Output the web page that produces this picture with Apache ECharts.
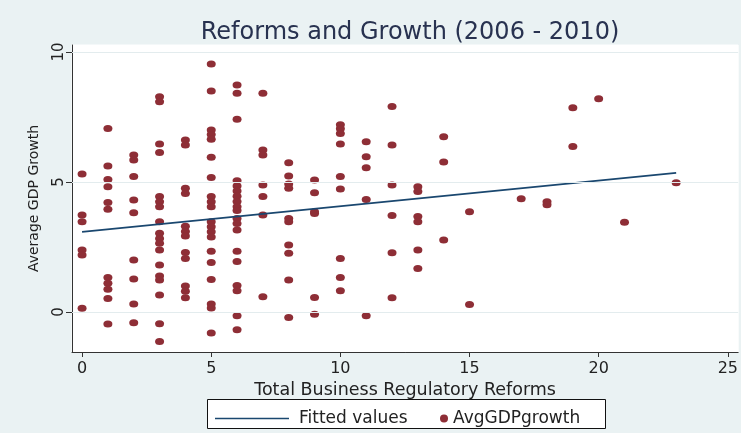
<!DOCTYPE html>
<html>
<head>
<meta charset="utf-8">
<script src="https://cdn.jsdelivr.net/npm/echarts@6/dist/echarts.min.js"></script>
<style>
html,body{margin:0;padding:0;background:#eaf2f3;}
#chart{width:741px;height:433px;}
</style>
</head>
<body>
<div id="chart"></div>
<script>
// Total business regulatory reforms (x) and average GDP growth (y), one entry per country
const reforms = [
  0,0,0,0,0,0,
  1,1,1,1,1,1,1,1,1,1,1,
  2,2,2,2,2,2,2,2,2,
  3,3,3,3,3,3,3,3,3,3,3,3,3,3,3,3,3,3,
  4,4,4,4,4,4,4,4,4,4,4,4,
  5,5,5,5,5,5,5,5,5,5,5,5,5,5,5,5,5,5,5,5,
  6,6,6,6,6,6,6,6,6,6,6,6,6,6,6,6,6,6,6,
  7,7,7,7,7,7,7,
  8,8,8,8,8,8,8,8,8,8,
  9,9,9,9,9,9,
  10,10,10,10,10,10,10,10,10,
  11,11,11,11,11,
  12,12,12,12,12,12,
  13,13,13,13,13,13,
  14,14,14,
  15,15,
  17,
  18,18,
  19,19,
  20,
  21,
  23
];
const avgGdpGrowth = [
  5.31,3.73,3.47,2.38,2.19,0.14,
  7.06,5.62,5.10,4.82,4.21,3.95,1.33,1.10,0.87,0.52,-0.46,
  6.04,5.85,5.21,4.31,3.82,2.00,1.27,0.31,-0.41,
  8.28,8.09,6.46,6.13,4.44,4.24,4.05,3.47,3.03,2.83,2.64,2.38,1.81,1.38,1.23,0.65,-0.45,-1.14,
  6.62,6.42,4.76,4.56,3.30,3.10,2.92,2.29,2.06,1.00,0.80,0.55,
  9.54,8.50,7.00,6.83,6.64,5.95,5.17,4.44,4.24,4.05,3.47,3.28,3.09,2.88,2.34,1.90,1.25,0.31,0.15,-0.81,
  8.73,8.41,7.41,5.05,4.85,4.65,4.45,4.25,4.05,3.90,3.60,3.40,3.15,2.34,1.94,1.02,0.82,-0.15,-0.68,
  8.41,6.23,6.04,4.88,4.44,3.73,0.59,
  5.74,5.23,4.92,4.76,3.60,3.47,2.58,2.26,1.23,-0.21,
  5.08,4.59,3.86,3.79,0.56,-0.09,
  7.20,7.05,6.87,6.46,5.21,4.73,2.06,1.33,0.82,
  6.55,5.97,5.55,4.33,-0.15,
  7.90,6.42,4.88,3.71,2.28,0.55,
  4.82,4.63,3.67,3.47,2.38,1.67,
  6.74,5.77,2.77,
  3.86,0.29,
  4.36,
  4.24,4.12,
  7.86,6.37,
  8.20,
  3.45,
  4.97
];
// Fitted values (linear fit) at the ends of the data range
const fitReforms = [0, 23];
const fitValues = [3.08, 5.35];
// Tick labels
const xTicks = [0, 5, 10, 15, 20, 25];
const yTicks = [0, 5, 10];

const FONT = 'DejaVu Sans';
const chart = echarts.init(document.getElementById('chart'));
chart.setOption({
  backgroundColor: '#eaf2f3',
  animation: false,
  title: {
    text: 'Reforms and Growth (2006 - 2010)',
    left: 405,
    textAlign: 'center',
    top: 16,
    textStyle: {fontFamily: FONT, fontSize: 24, fontWeight: 'normal', color: '#283250'}
  },
  grid: {left: 72, right: 1, top: 45, bottom: 81, show: true, backgroundColor: '#ffffff', borderWidth: 1, borderColor: '#ffffff'},
  xAxis: {
    type: 'value', min: -0.39, max: 25.4,
    axisLine: {show: true, onZero: false, lineStyle: {color: '#333', width: 1}},
    axisTick: {show: true, customValues: xTicks, length: 5, lineStyle: {color: '#333'}},
    axisLabel: {customValues: xTicks, fontFamily: FONT, fontSize: 16, color: '#222', margin: 9},
    splitLine: {show: false},
    name: 'Total Business Regulatory Reforms',
    nameLocation: 'middle', nameGap: 22,
    nameTextStyle: {fontFamily: FONT, fontSize: 17.5, color: '#222'}
  },
  yAxis: {
    type: 'value', min: -1.54, max: 10.27,
    axisLine: {show: true, onZero: false, lineStyle: {color: '#333', width: 1}},
    axisTick: {show: true, customValues: yTicks, length: 6, lineStyle: {color: '#333'}},
    axisLabel: {customValues: yTicks, rotate: 90, fontFamily: FONT, fontSize: 15, color: '#222', margin: 5},
    splitLine: {show: false},
    name: 'Average GDP Growth',
    nameLocation: 'middle', nameRotate: 90, nameGap: 31,
    nameTextStyle: {fontFamily: FONT, fontSize: 14, color: '#222'}
  },
  graphic: [{
    type: 'rect', left: 207, top: 399, z: 0,
    shape: {width: 398, height: 29},
    style: {fill: '#ffffff', stroke: '#111', lineWidth: 1}
  }],
  legend: [{
    data: [{name: 'Fitted values', icon: 'rect'}], left: 210, top: 405,
    itemWidth: 74, itemHeight: 1.6, itemGap: 0,
    itemStyle: {color: '#1a476f'},
    textStyle: {fontFamily: FONT, fontSize: 17, color: '#222', padding: [0, 0, 0, 5]}
  }, {
    data: [{name: 'AvgGDPgrowth', icon: 'circle'}], left: 435, top: 405,
    itemWidth: 8, itemHeight: 8,
    textStyle: {fontFamily: FONT, fontSize: 17, color: '#222'}
  }],
  series: [{
    name: 'Fitted values', type: 'line',
    data: fitReforms.map((x, i) => [x, fitValues[i]]),
    showSymbol: false, symbol: 'none',
    lineStyle: {color: '#1a476f', width: 1.6},
    itemStyle: {color: '#1a476f'},
    markLine: {
      silent: true, symbol: 'none', label: {show: false},
      lineStyle: {color: '#e3ecee', width: 1, type: 'solid'},
      data: yTicks.map(v => ({yAxis: v}))
    }
  }, {
    name: 'AvgGDPgrowth', type: 'scatter',
    data: reforms.map((x, i) => [x, avgGdpGrowth[i]]),
    symbol: 'circle', symbolSize: [9, 7],
    itemStyle: {color: '#8e2e36', opacity: 1}
  }]
});
</script>
</body>
</html>
